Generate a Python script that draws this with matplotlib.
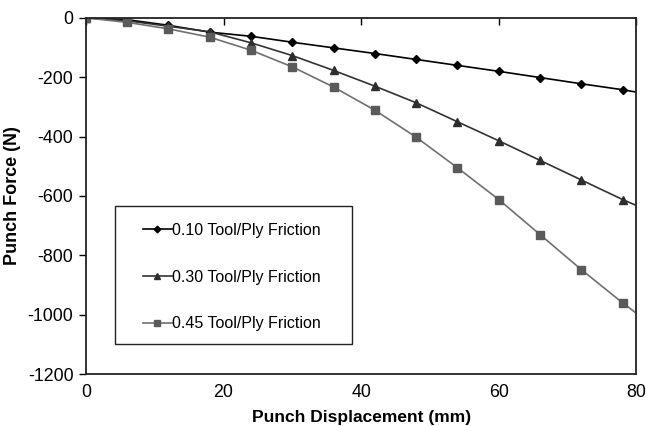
import matplotlib.pyplot as plt
from matplotlib.patches import Rectangle

plt.rcParams['font.family'] = ['Liberation Sans', 'DejaVu Sans']
plt.rcParams['axes.unicode_minus'] = False

# Datos
desplazamiento = [0, 6, 12, 18, 24, 30, 36, 42, 48, 54, 60, 66, 72, 78, 80]
friccion010 = [0, -6, -25, -48, -62, -82, -101, -120, -140, -160, -180, -201, -222, -242, -250]
friccion030 = [0, -10, -28, -47, -84, -127, -177, -230, -286, -350, -414, -480, -546, -612, -632]
friccion045 = [0, -15, -37, -65, -109, -165, -233, -311, -402, -505, -612, -730, -848, -960, -995]

etiquetas = ['0.10 Tool/Ply Friction', '0.30 Tool/Ply Friction', '0.45 Tool/Ply Friction']
marcadores = ['D', '^', 's']
tamanos = [4.5, 5.5, 5.5]
colores_linea = ['#000000', '#333333', '#707070']
colores_marca = ['#000000', '#2e2e2e', '#5a5a5a']

fig = plt.figure(figsize=(6.46, 4.26), dpi=100)
ax = fig.add_axes([0.133, 0.122, 0.852, 0.836])

puntos = list(range(len(desplazamiento) - 1))
for serie, etiqueta, marcador, tam, cl, cm in zip([friccion010, friccion030, friccion045],
                                                  etiquetas, marcadores, tamanos,
                                                  colores_linea, colores_marca):
    ax.plot(desplazamiento, serie, color=cl, lw=1.2, marker=marcador, ms=tam,
            mfc=cm, mec=cm, markevery=puntos, label=etiqueta)

ax.set_xlim(0, 80)
ax.set_ylim(-1200, 0)
ax.set_xticks([0, 20, 40, 60, 80])
ax.set_yticks(range(-1200, 1, 200))

ax.tick_params(axis='x', top=True, bottom=False, labeltop=False, labelbottom=True,
               direction='in', length=5, width=1, labelsize=12.8, pad=7)
ax.tick_params(axis='y', direction='out', length=5, width=1, labelsize=12.8, pad=4)
for lado in ax.spines.values():
    lado.set_linewidth(1.3)
    lado.set_color('#222222')

ax.set_xlabel('Punch Displacement (mm)', fontsize=12.5, fontweight='bold', labelpad=6.5)
ax.set_ylabel('Punch Force (N)', fontsize=13, fontweight='bold', labelpad=5)

# Marco de la leyenda
marco = Rectangle((0.053, 0.084), 0.431, 0.388, transform=ax.transAxes,
                  fill=True, facecolor='white', edgecolor='#222222', lw=1.0, zorder=4)
ax.add_patch(marco)

leyenda = ax.legend(loc='upper left', bbox_to_anchor=(0.1036, 0.424), frameon=False,
                    fontsize=11.5, handlelength=1.8, handletextpad=0.0, labelspacing=1.98,
                    borderpad=0, borderaxespad=0, markerscale=0.75)
leyenda.set_zorder(5)

plt.savefig('out.png', dpi=100)
